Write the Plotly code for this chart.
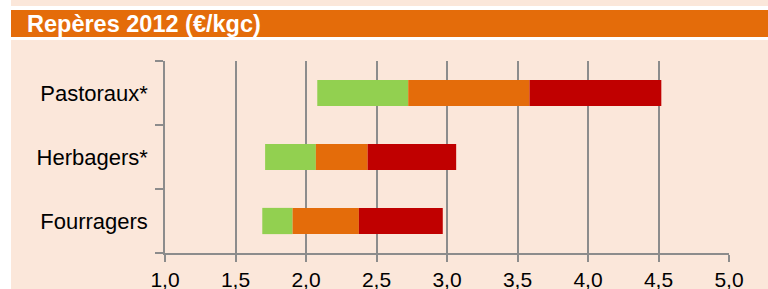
import plotly.graph_objects as go

categories = ["Fourragers", "Herbagers*", "Pastoraux*"]
start_vals = [1.69, 1.71, 2.08]
green_end = [1.905, 2.07, 2.725]
orange_end = [2.375, 2.437, 3.585]
red_end = [2.97, 3.065, 4.52]
x_ticks = [1.0, 1.5, 2.0, 2.5, 3.0, 3.5, 4.0, 4.5, 5.0]

GREEN = "#92D050"
ORANGE = "#E46C0A"
RED = "#C00000"
PEACH = "#FBE7DA"
GRAY = "#8C8C8C"
FONT = "Liberation Sans, Arial, sans-serif"

fig = go.Figure()
segments = [
    (start_vals, green_end, GREEN),
    (green_end, orange_end, ORANGE),
    (orange_end, red_end, RED),
]
for base, end, col in segments:
    fig.add_trace(go.Bar(
        y=categories,
        x=[e - b for b, e in zip(base, end)],
        base=base,
        orientation="h",
        marker=dict(color=col, line=dict(width=0)),
        width=0.41,
        showlegend=False,
        hoverinfo="skip",
    ))

W, H = 768, 289
L, R, T, B = 165, 39, 61, 36
pw, ph = W - L - R, H - T - B

def px(x):
    return (x - L) / pw

def py(y):
    return (H - B - y) / ph

shapes = [
    dict(type="rect", xref="paper", yref="paper", x0=px(11), x1=px(800),
         y0=py(40), y1=py(320), fillcolor=PEACH, line=dict(width=0), layer="below"),
    dict(type="rect", xref="paper", yref="paper", x0=px(11), x1=px(800),
         y0=py(-20), y1=py(6), fillcolor=PEACH, line=dict(width=0), layer="below"),
    dict(type="rect", xref="paper", yref="paper", x0=px(11), x1=px(800),
         y0=py(37), y1=py(10), fillcolor=ORANGE, line=dict(width=0), layer="below"),
]

fig.update_layout(
    width=W, height=H,
    margin=dict(l=L, r=R, t=T, b=B, pad=0, autoexpand=False),
    paper_bgcolor="white",
    plot_bgcolor=PEACH,
    barmode="overlay",
    separators=", ",
    font=dict(family=FONT, color="black"),
    shapes=shapes,
    annotations=[dict(
        text="<b>Repères 2012 (€/kgc)</b>", xref="paper", yref="paper",
        x=px(25), y=py(23.5), xanchor="left", yanchor="middle",
        showarrow=False, font=dict(family=FONT, size=23.5, color="white"),
    )],
)
fig.update_xaxes(
    range=[1, 5], tickvals=x_ticks, tickformat=".1f",
    showgrid=True, gridcolor=GRAY, gridwidth=1.5,
    showline=True, linecolor=GRAY, linewidth=1.5,
    ticks="outside", ticklen=7, tickcolor=GRAY, tickwidth=1.5,
    tickfont=dict(size=21, color="black", family=FONT),
    zeroline=False, fixedrange=True, automargin=False,
)
fig.update_yaxes(
    categoryorder="array", categoryarray=categories,
    range=[-0.5, 2.5],
    showgrid=False, showline=True, linecolor=GRAY, linewidth=1.5,
    ticks="outside", ticklen=8, tickcolor=GRAY, tickwidth=1.5,
    tickson="boundaries", ticklabelstandoff=11,
    tickfont=dict(size=22, color="black", family=FONT),
    zeroline=False, fixedrange=True, automargin=False,
)

fig.write_html(
    "out.html",
    config={"displayModeBar": False},
    post_script="document.body.style.margin='0px';document.body.style.overflow='hidden';",
)
